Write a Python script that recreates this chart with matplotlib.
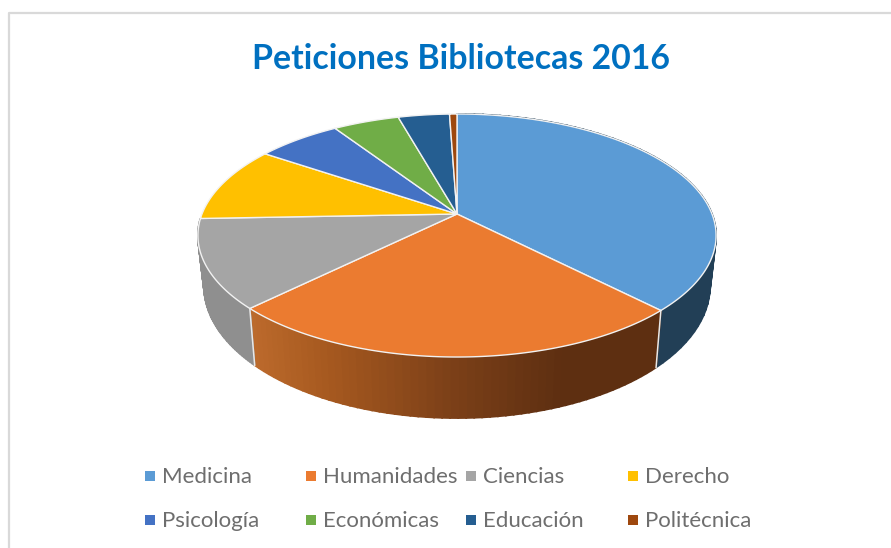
"""
Peticiones Bibliotecas 2016 - pie 3D
"""
import numpy as np
import matplotlib
matplotlib.use("Agg")
import matplotlib.pyplot as plt

plt.rcParams['font.family'] = ['Lato', 'DejaVu Sans']

categories = ["Medicina", "Humanidades", "Ciencias", "Derecho",
              "Psicología", "Económicas", "Educación", "Politécnica"]
values = [37.7, 24.9, 11.8, 10.1, 6.25, 4.9, 3.8, 0.55]
colors = ["#5B9BD5", "#EB7B30", "#A5A5A5", "#FFC000",
          "#4472C4", "#70AD47", "#255E91", "#9E480E"]

# side wall colours, left to right in pixels
side_x = [200, 250, 330, 450, 560, 720]
side_orange = ["#BC6A2C", "#BC6A2C", "#A5581F", "#7C4018", "#5E2F11", "#5E2F11"]
side_grey = ["#8F8F8F", "#8F8F8F", "#7E7E7E", "#7E7E7E", "#7E7E7E", "#7E7E7E"]
side_blue = ["#223F56"] * 6

CX = 457
K = 0.177


def top_xy(t):
    u, v = np.sin(t), np.cos(t)
    w = 1 + K * v
    return CX + 255 * u / w, 214 - 117.7 * v / w


def bottom_xy(t):
    u, v = np.sin(t), np.cos(t)
    w = 1 + K * v
    return CX + 249 * u / w, 262.5 - 128 * v / w


def side_color(anchors, x):
    rgb = np.array([matplotlib.colors.to_rgb(c) for c in anchors])
    return [np.interp(x, side_x, rgb[:, i]) for i in range(3)]


fig = plt.figure(figsize=(8.91, 5.48), dpi=100)
ax = fig.add_axes([0, 0, 1, 1])
ax.set_xlim(0, 891)
ax.set_ylim(548, 0)
ax.axis("off")

# marco del grafico
ax.plot([8.5, 8.5, 891], [548, 12.5, 12.5], color="#D9D9D9", lw=1.6)

angles = np.concatenate([[0], np.cumsum(values)]) / np.sum(values) * 2 * np.pi

# paredes laterales
walls = {0: side_blue, 1: side_orange, 2: side_grey}
for i, anchors in walls.items():
    ts = np.linspace(angles[i], angles[i + 1], 60)
    for t0, t1 in zip(ts[:-1], ts[1:]):
        x0, y0 = top_xy(t0)
        x1, y1 = top_xy(t1)
        x2, y2 = bottom_xy(t1)
        x3, y3 = bottom_xy(t0)
        c = side_color(anchors, (x0 + x1) / 2)
        ax.fill([x0, x1, x2, x3], [y0, y1, y2, y3], color=c, lw=1.3, zorder=2)

# juntas blancas de las paredes
for t in [angles[1], angles[2]]:
    x0, y0 = top_xy(t)
    x1, y1 = bottom_xy(t)
    ax.plot([x0, x1], [y0, y1], color="#E8E8E8", lw=1.1, zorder=3)

# cara superior
for i in range(len(values)):
    ts = np.linspace(angles[i], angles[i + 1], 200)
    xs, ys = top_xy(ts)
    ax.fill(np.r_[CX, xs], np.r_[214, ys], facecolor=colors[i],
            edgecolor="#F2F2F2", lw=1.0, joinstyle="round", zorder=4)

ax.text(460.5, 59, "Peticiones Bibliotecas 2016", color="#0070C0", fontsize=24.4,
        fontweight="bold", ha="center", va="center")

# leyenda
col_x = [150, 311, 471, 633]
row_y = [476, 520]
for i, name in enumerate(categories):
    x = col_x[i % 4]
    y = row_y[i // 4]
    ax.scatter([x], [y], marker="s", s=42, color=colors[i], linewidths=0)
    ax.text(x + 12, y + 7, name, color="#6E6E6E", fontsize=16, ha="left", va="baseline")

fig.savefig("out.png", dpi=100)
